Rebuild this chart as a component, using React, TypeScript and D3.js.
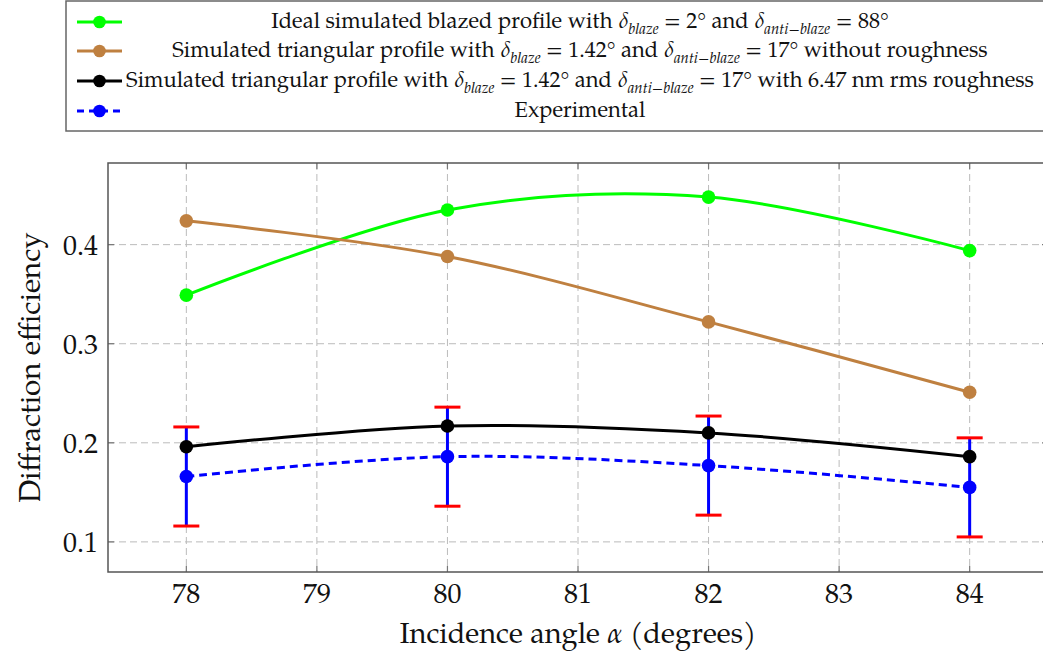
import React from "react";
import * as d3 from "d3";

const angles = [78, 80, 82, 84];
const idealBlazed = [0.349, 0.435, 0.448, 0.394];
const triangularNoRough = [0.424, 0.388, 0.322, 0.251];
const triangularRough = [0.196, 0.217, 0.21, 0.186];
const experimental = [0.166, 0.186, 0.177, 0.155];
const experimentalErr = [0.05, 0.05, 0.05, 0.05];
const xTicks = [78, 79, 80, 81, 82, 83, 84];
const yTicks = [0.1, 0.2, 0.3, 0.4];
const xDomain = [77.4, 84.6];
const yDomain = [0.0696, 0.4824];

const FONT = "'TeX Gyre Pagella', 'Liberation Serif', serif";
const W = 1043;
const H = 661;
const left = 108, right = 1048, top = 163, bottom = 572;

const x = d3.scaleLinear().domain(xDomain).range([left, right]);
const y = d3.scaleLinear().domain(yDomain).range([bottom, top]);

const line = d3
  .line<[number, number]>()
  .x((d) => x(d[0]))
  .y((d) => y(d[1]))
  .curve(d3.curveCardinal.tension(0));

const series = [
  { name: "ideal", values: idealBlazed, color: "#00ff00", dash: undefined },
  { name: "tri", values: triangularNoRough, color: "#bf8040", dash: undefined },
  { name: "rough", values: triangularRough, color: "#000000", dash: undefined },
  { name: "exp", values: experimental, color: "#0000ff", dash: "8 5" },
];

const ts = { fontFamily: FONT };

function Delta({ sub }: { sub: string }) {
  return (
    <>
      <tspan fontStyle="italic">δ</tspan>
      <tspan fontStyle="italic" fontSize={15} dy={6}>{sub}</tspan>
      <tspan dy={-6}> </tspan>
    </>
  );
}

export default function App() {
  const legendRows = [
    {
      color: "#00ff00",
      dash: undefined,
      text: (
        <>
          Ideal simulated blazed profile with <Delta sub="blaze" />= 2° and <Delta sub="anti−blaze" />= 88°
        </>
      ),
    },
    {
      color: "#bf8040",
      dash: undefined,
      text: (
        <>
          Simulated triangular profile with <Delta sub="blaze" />= 1.42° and <Delta sub="anti−blaze" />= 17° without roughness
        </>
      ),
    },
    {
      color: "#000000",
      dash: undefined,
      text: (
        <>
          Simulated triangular profile with <Delta sub="blaze" />= 1.42° and <Delta sub="anti−blaze" />= 17° with 6.47 nm rms roughness
        </>
      ),
    },
    { color: "#0000ff", dash: "7 5", text: <>Experimental</> },
  ];
  const rowY = [22, 51, 81, 111];

  return (
    <svg
      width={W}
      height={H}
      style={{ position: "absolute", left: 0, top: 0, background: "#fff" }}
    >
      <defs>
        <clipPath id="plotclip">
          <rect x={left} y={top} width={right - left} height={bottom - top} />
        </clipPath>
      </defs>

      {/* grid */}
      {xTicks.map((t) => (
        <line key={"gx" + t} x1={x(t)} x2={x(t)} y1={top} y2={bottom} stroke="#bbbbbb" strokeWidth={1} strokeDasharray="7 4" />
      ))}
      {yTicks.map((t) => (
        <line key={"gy" + t} x1={left} x2={right} y1={y(t)} y2={y(t)} stroke="#bbbbbb" strokeWidth={1} strokeDasharray="7 4" />
      ))}

      {/* ticks */}
      {xTicks.map((t) => (
        <g key={"tx" + t}>
          <line x1={x(t)} x2={x(t)} y1={bottom} y2={bottom - 6} stroke="#777" strokeWidth={1.2} />
          <line x1={x(t)} x2={x(t)} y1={top} y2={top + 6} stroke="#777" strokeWidth={1.2} />
          <text x={x(t)} y={bottom + 31} textAnchor="middle" fontSize={28} fill="#111" style={ts}>
            {t}
          </text>
        </g>
      ))}
      {yTicks.map((t) => (
        <g key={"ty" + t}>
          <line x1={left} x2={left + 6} y1={y(t)} y2={y(t)} stroke="#777" strokeWidth={1.2} />
          <line x1={right} x2={right - 6} y1={y(t)} y2={y(t)} stroke="#777" strokeWidth={1.2} />
          <text x={left - 10} y={y(t) + 10} textAnchor="end" fontSize={28} fill="#111" style={ts}>
            {d3.format(".1f")(t)}
          </text>
        </g>
      ))}

      {/* frame */}
      <rect x={left} y={top} width={right - left} height={bottom - top} fill="none" stroke="#555" strokeWidth={1.5} />

      {/* series */}
      <g clipPath="url(#plotclip)">
        {series.map((s) => (
          <path
            key={s.name}
            d={line(angles.map((a, i) => [a, s.values[i]] as [number, number])) || ""}
            fill="none"
            stroke={s.color}
            strokeWidth={3}
            strokeDasharray={s.dash}
          />
        ))}
        {angles.map((a, i) => {
          const v = experimental[i];
          const e = experimentalErr[i];
          return (
            <g key={"eb" + a}>
              <line x1={x(a)} x2={x(a)} y1={y(v - e)} y2={y(v + e)} stroke="#0000ff" strokeWidth={3} />
              <line x1={x(a) - 13} x2={x(a) + 13} y1={y(v + e)} y2={y(v + e)} stroke="#ff0000" strokeWidth={3} />
              <line x1={x(a) - 13} x2={x(a) + 13} y1={y(v - e)} y2={y(v - e)} stroke="#ff0000" strokeWidth={3} />
            </g>
          );
        })}
        {series.map((s) =>
          angles.map((a, i) => (
            <circle key={s.name + a} cx={x(a)} cy={y(s.values[i])} r={6.8} fill={s.color} />
          ))
        )}
      </g>

      {/* axis labels */}
      <text x={578} y={643} textAnchor="middle" fontSize={29} fill="#111" style={ts}>
        Incidence angle <tspan fontStyle="italic">α</tspan> (degrees)
      </text>
      <text
        transform={`translate(40, ${(top + bottom) / 2}) rotate(-90)`}
        textAnchor="middle"
        fontSize={29.5}
        fill="#111"
        style={ts}
      >
        Diffraction efficiency
      </text>

      {/* legend */}
      <rect x={66} y={1} width={1094 - 66} height={130} fill="#fff" stroke="#666" strokeWidth={1.5} />
      {legendRows.map((r, i) => (
        <g key={"lg" + i}>
          <line x1={77} x2={122} y1={rowY[i]} y2={rowY[i]} stroke={r.color} strokeWidth={3} strokeDasharray={r.dash} />
          <circle cx={99.5} cy={rowY[i]} r={6.3} fill={r.color} />
          <text x={580} y={rowY[i] + 6} textAnchor="middle" fontSize={22} fill="#111" style={ts}>
            {r.text}
          </text>
        </g>
      ))}
    </svg>
  );
}
